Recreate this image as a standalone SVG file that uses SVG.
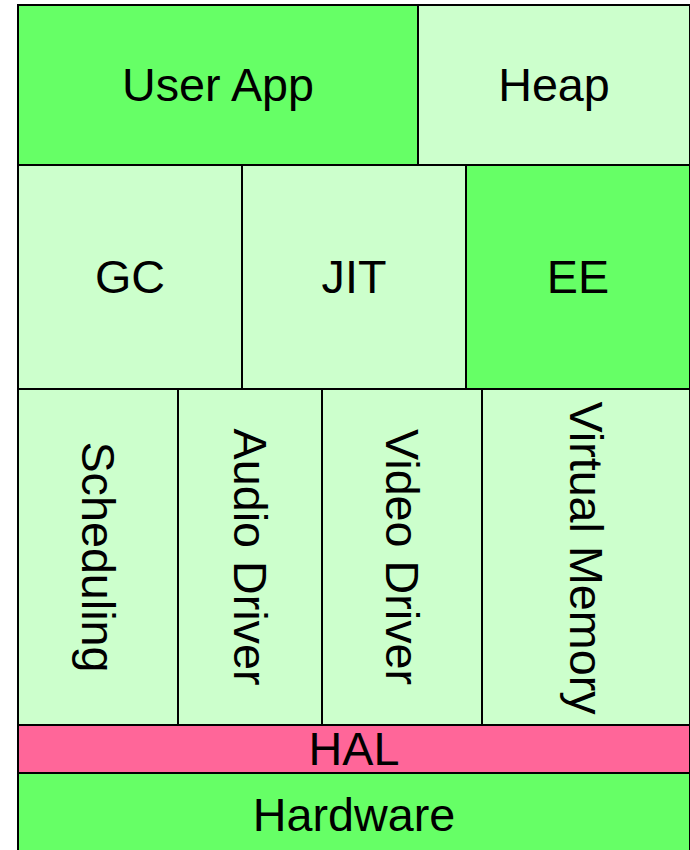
<svg xmlns="http://www.w3.org/2000/svg" width="690" height="850" viewBox="0 0 690 850">
<style>
rect{stroke:#000;stroke-width:2}
.b{fill:#66FF66}
.l{fill:#CCFFCC}
.p{fill:#FF6699}
text{font-family:"Liberation Sans",Arial,sans-serif;font-size:46.7px;fill:#000;text-anchor:middle}
</style>
<rect x="0" y="0" width="690" height="850" fill="#fff" style="stroke:none"/>
<g id="user-app"><rect class="b" x="18" y="5" width="400" height="160"/><text x="218" y="101">User App</text></g>
<g id="heap"><rect class="l" x="418" y="5" width="272" height="160"/><text x="554" y="101">Heap</text></g>
<g id="gc"><rect class="l" x="18" y="165" width="224" height="224"/><text x="130" y="293">GC</text></g>
<g id="jit"><rect class="l" x="242" y="165" width="224" height="224"/><text x="354" y="293">JIT</text></g>
<g id="ee"><rect class="b" x="466" y="165" width="224" height="224"/><text x="578" y="293">EE</text></g>
<g id="scheduling"><rect class="l" x="18" y="389" width="160" height="336"/><text transform="translate(98,557) rotate(90)" x="0" y="16.5">Scheduling</text></g>
<g id="audio-driver"><rect class="l" x="178" y="389" width="144" height="336"/><text transform="translate(250,557) rotate(90)" x="0" y="16.5">Audio Driver</text></g>
<g id="video-driver"><rect class="l" x="322" y="389" width="160" height="336"/><text transform="translate(402,557) rotate(90)" x="0" y="16.5">Video Driver</text></g>
<g id="virtual-memory"><rect class="l" x="482" y="389" width="208" height="336"/><text transform="translate(586,558) rotate(90)" x="0" y="16.5">Virtual Memory</text></g>
<g id="hal"><rect class="p" x="18" y="725" width="672" height="48"/><text x="354" y="765">HAL</text></g>
<g id="hardware"><rect class="b" x="18" y="773" width="672" height="84"/><text x="354" y="831">Hardware</text></g>
</svg>
